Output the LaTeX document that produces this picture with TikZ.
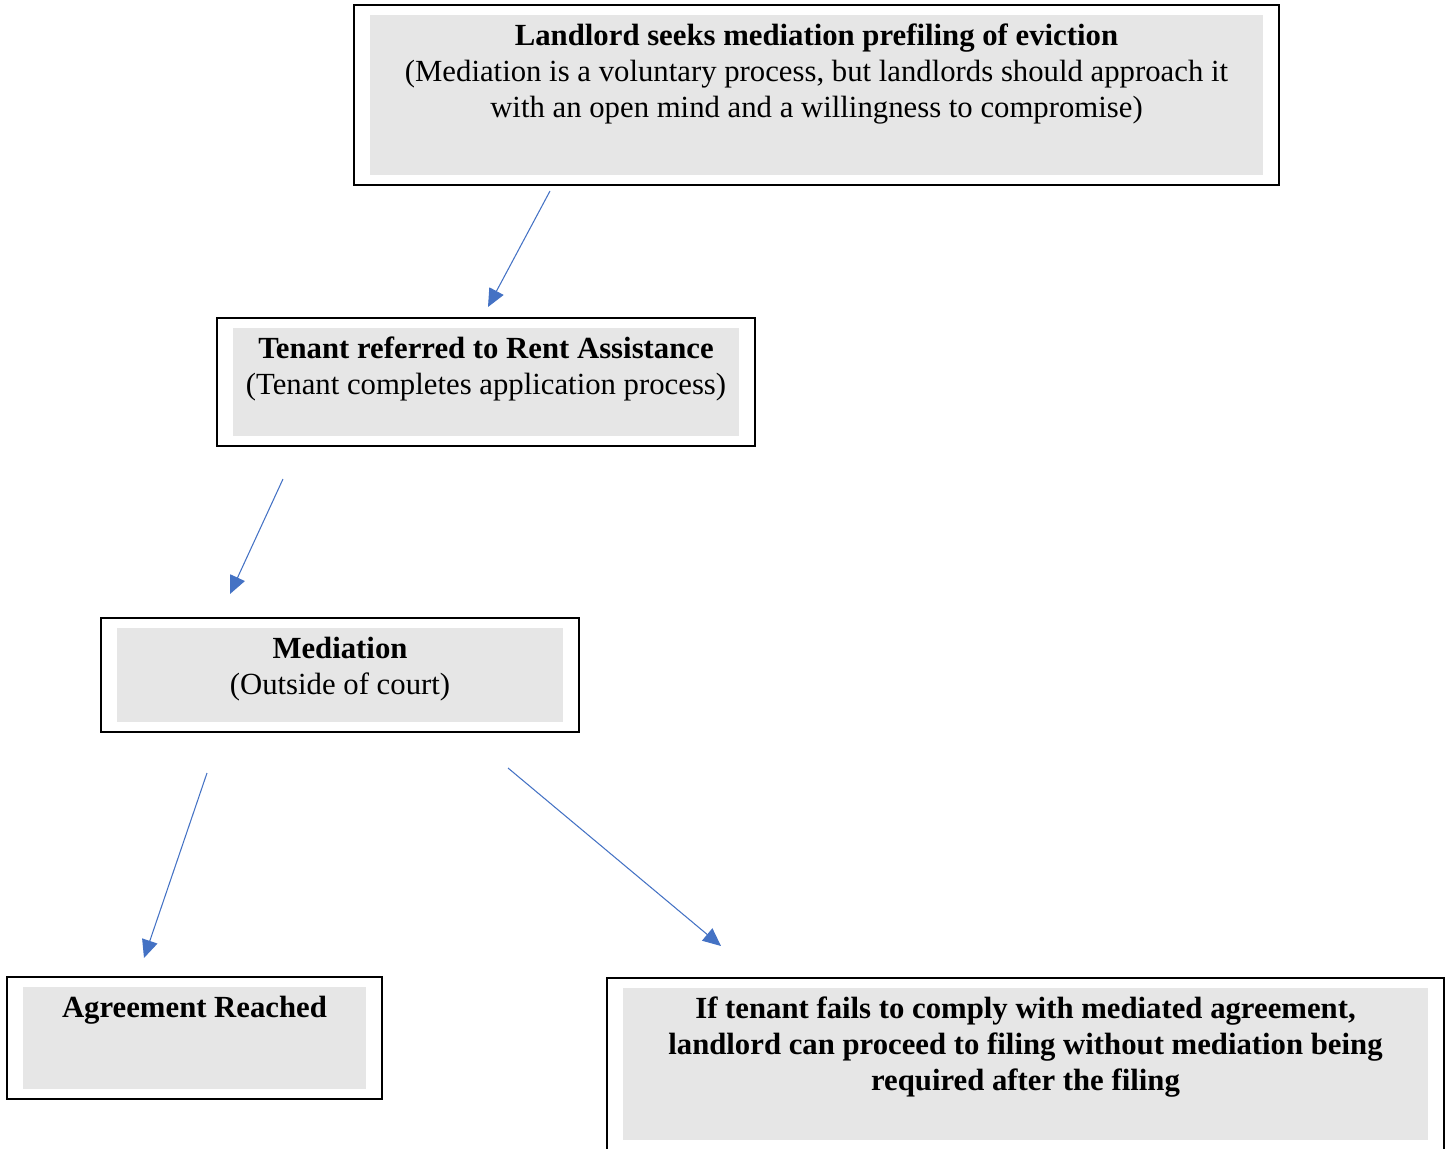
\documentclass[tikz,border=0pt]{standalone}
\usepackage{fontspec}
\setmainfont{Liberation Serif}
\usetikzlibrary{arrows.meta,fit,positioning}
\definecolor{boxgray}{HTML}{E6E6E6}
\definecolor{arrowblue}{HTML}{4472C4}
\begin{document}
\begin{tikzpicture}[x=0.02cm,y=-0.02cm,
    fillbox/.style={fill=boxgray,inner sep=0pt},
    frame/.style={draw,line width=1.1pt,inner xsep=0.32cm,inner ysep=0.2cm},
    boxtext/.style={anchor=north,align=center,inner sep=0pt,
        font=\fontsize{17.5}{20.4}\selectfont},
    link/.style={arrowblue,line width=0.6pt,-{Triangle[length=0.36cm,width=0.32cm]}}]
 \useasboundingbox (0,0) rectangle (1448,1149);
 % grey areas
 \node[fillbox,fit={(370,15) (1263,175)}] (landlord) {};
 \node[fillbox,fit={(233,328) (739,436)}] (tenant) {};
 \node[fillbox,fit={(117,628) (563,722)}] (mediation) {};
 \node[fillbox,fit={(23,987) (366,1089)}] (agreement) {};
 \node[fillbox,fit={(623,988) (1428,1140)}] (fails) {};
 % frames
 \foreach \n in {landlord,tenant,mediation,agreement,fails}
    \node[frame,fit=(\n)] (\n frame) {};
 % texts
 \node[boxtext] (landlordtext) at ([yshift=-0.18cm]landlord.north)
    {\textbf{Landlord seeks mediation prefiling of eviction}\\
     (Mediation is a voluntary process, but landlords should approach it\\
     with an open mind and a willingness to compromise)};
 \node[boxtext] (tenanttext) at ([yshift=-0.18cm]tenant.north)
    {\textbf{Tenant referred to Rent Assistance}\\
     (Tenant completes application process)};
 \node[boxtext] (mediationtext) at ([yshift=-0.18cm]mediation.north)
    {\textbf{Mediation}\\(Outside of court)};
 \node[boxtext] (agreementtext) at ([yshift=-0.18cm]agreement.north)
    {\textbf{Agreement Reached}};
 \node[boxtext,font=\bfseries\fontsize{17.5}{20.4}\selectfont] (failstext)
    at ([yshift=-0.18cm]fails.north)
    {If tenant fails to comply with mediated agreement,\\
     landlord can proceed to filing without mediation being\\
     required after the filing};
 % arrows
 \coordinate (landlordout) at (550,191);
 \coordinate (tenantin) at (488,307);
 \coordinate (tenantout) at (283,479);
 \coordinate (mediationin) at (230,594);
 \coordinate (mediationleft) at (207,773);
 \coordinate (agreementin) at (144,958);
 \coordinate (mediationright) at (508,768);
 \coordinate (failsin) at (721,946);
 \draw[link] (landlordout) -- (tenantin);
 \draw[link] (tenantout) -- (mediationin);
 \draw[link] (mediationleft) -- (agreementin);
 \draw[link] (mediationright) -- (failsin);
\end{tikzpicture}
\end{document}
